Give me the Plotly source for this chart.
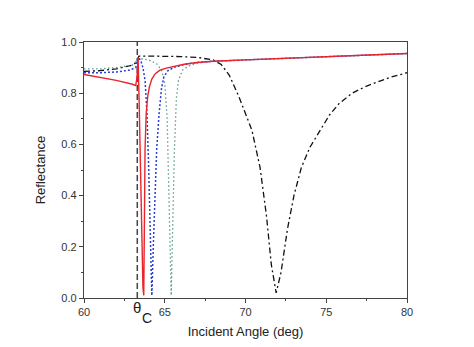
import plotly.graph_objects as go

# --- data ---
theta_c = 63.3

red_x = [60, 61, 62, 63, 63.2, 63.28, 63.35, 63.42, 63.5, 63.58, 63.65, 63.7, 63.74, 63.78, 63.85, 63.95, 64.05, 64.2, 64.4, 64.7, 65.1, 65.6, 66.2, 67, 68, 70, 72, 75, 78, 80]
red_y = [0.873, 0.862, 0.85, 0.835, 0.83, 0.86, 0.94, 0.75, 0.45, 0.2, 0.04, 0.01, 0.3, 0.58, 0.72, 0.79, 0.825, 0.855, 0.875, 0.89, 0.898, 0.906, 0.913, 0.92, 0.925, 0.93, 0.935, 0.942, 0.95, 0.955]

blue_x = [60, 61, 62, 62.8, 63.2, 63.3, 63.36, 63.5, 63.65, 63.78, 63.9, 64.0, 64.1, 64.2, 64.3, 64.4, 64.5, 64.65, 64.8, 64.95, 65.2, 65.6, 66.2, 67, 68, 70, 72, 75, 78, 80]
blue_y = [0.88, 0.88, 0.883, 0.89, 0.9, 0.92, 0.94, 0.93, 0.9, 0.85, 0.72, 0.52, 0.25, 0.01, 0.22, 0.42, 0.58, 0.72, 0.82, 0.865, 0.888, 0.902, 0.912, 0.92, 0.925, 0.93, 0.935, 0.942, 0.95, 0.955]

teal_x = [60, 61, 62, 63, 63.3, 63.5, 64, 64.5, 64.8, 65.0, 65.15, 65.28, 65.4, 65.5, 65.6, 65.72, 65.85, 66.1, 66.5, 67, 68, 70, 72, 75, 78, 80]
teal_y = [0.895, 0.895, 0.9, 0.91, 0.93, 0.935, 0.93, 0.915, 0.89, 0.84, 0.7, 0.35, 0.01, 0.3, 0.58, 0.78, 0.85, 0.89, 0.907, 0.917, 0.925, 0.93, 0.935, 0.942, 0.95, 0.955]

black_x = [60, 61, 62, 63, 63.25, 63.4, 64, 65, 66, 67, 67.5, 68, 68.5, 69, 69.6, 70, 70.4, 70.9, 71.3, 71.6, 71.9, 72.2, 72.6, 73.0, 73.46, 74, 74.6, 75.2, 75.8, 76.6, 77.5, 78.3, 79, 80]
black_y = [0.885, 0.888, 0.895, 0.91, 0.92, 0.945, 0.945, 0.945, 0.943, 0.94, 0.936, 0.93, 0.912, 0.87, 0.785, 0.72, 0.655, 0.51, 0.32, 0.13, 0.02, 0.1, 0.27, 0.4, 0.51, 0.59, 0.655, 0.715, 0.76, 0.8, 0.828, 0.848, 0.863, 0.88]

x_ticks = [60, 65, 70, 75, 80]
y_ticks = [0.0, 0.2, 0.4, 0.6, 0.8, 1.0]

fig = go.Figure()

fig.add_trace(go.Scatter(x=[theta_c, theta_c], y=[0, 1], mode="lines",
                         line=dict(color="#444444", width=1.5, dash="6px,3px"),
                         showlegend=False, hoverinfo="skip"))
fig.add_trace(go.Scatter(x=black_x, y=black_y, mode="lines",
                         line=dict(color="#111111", width=1.3, dash="6px,3px,2px,3px"),
                         showlegend=False))
fig.add_trace(go.Scatter(x=teal_x, y=teal_y, mode="lines",
                         line=dict(color="#5a9c90", width=1.3, dash="1.5px,2.5px"),
                         showlegend=False))
fig.add_trace(go.Scatter(x=blue_x, y=blue_y, mode="lines",
                         line=dict(color="#2b3fd6", width=1.5, dash="2px,2px"),
                         showlegend=False))
fig.add_trace(go.Scatter(x=red_x, y=red_y, mode="lines",
                         line=dict(color="#e8242c", width=1.4),
                         showlegend=False))

axis_common = dict(showline=True, linecolor="#444444", linewidth=1.3, mirror=True,
                   showgrid=False, zeroline=False, ticks="outside", ticklen=4,
                   tickwidth=1, tickcolor="#444444",
                   tickfont=dict(family="Liberation Sans", size=11, color="#333333"))

fig.update_xaxes(range=[60, 80], tickvals=x_ticks,
                 minor=dict(dtick=2.5, tick0=60, ticks="outside", ticklen=2, tickcolor="#444444"),
                 title=dict(text="Incident Angle (deg)", standoff=9,
                            font=dict(family="Liberation Sans", size=13, color="#222222")),
                 **axis_common)
fig.update_yaxes(range=[0, 1.0], tickvals=y_ticks, tickformat=".1f",
                 minor=dict(dtick=0.1, tick0=0, ticks="outside", ticklen=2, tickcolor="#444444"),
                 title=dict(text="Reflectance", standoff=12,
                            font=dict(family="Liberation Sans", size=13, color="#222222")),
                 **axis_common)

fig.add_annotation(x=theta_c, y=-0.039, xref="x", yref="paper", text="θ", showarrow=False,
                   font=dict(family="Liberation Sans", size=15, color="#222222"),
                   xanchor="center", yanchor="middle")
fig.add_annotation(x=63.9, y=-0.08, xref="x", yref="paper", text="C", showarrow=False,
                   font=dict(family="Liberation Sans", size=14, color="#222222"),
                   xanchor="center", yanchor="middle")

fig.update_layout(width=474, height=347, autosize=False,
                  margin=dict(l=84, r=67, t=42, b=49),
                  paper_bgcolor="white", plot_bgcolor="white")

fig.write_html("out.html")
